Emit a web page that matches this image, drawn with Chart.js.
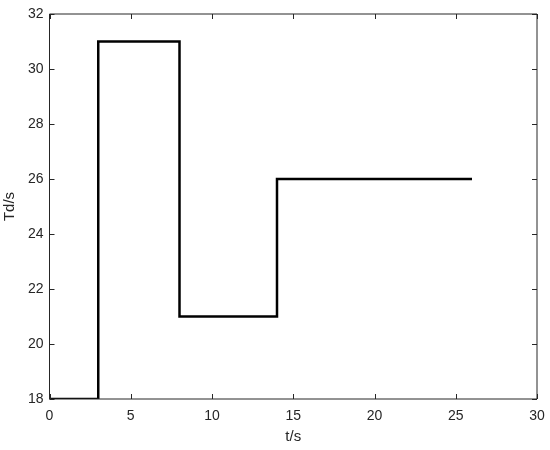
<!DOCTYPE html>
<html>
<head>
<meta charset="utf-8">
<script src="https://cdn.jsdelivr.net/npm/chart.js@4"></script>
<style>
  html, body { margin: 0; padding: 0; background: #fff; }
  #wrap { width: 550px; height: 450px; }
</style>
</head>
<body>
<div id="wrap"><canvas id="chart" width="550" height="450"></canvas></div>
<script>
// step times and values (value holds until the next time)
const times = [0, 3, 8, 14, 26];
const tdValues = [18, 31, 21, 26, 26];
const xTicks = [0, 5, 10, 15, 20, 25, 30];
const yTicks = [18, 20, 22, 24, 26, 28, 30, 32];

const axisColor = '#262626';
const fontFamily = 'Helvetica, Arial, "Liberation Sans", sans-serif';

// box around the plot and inward tick marks, MATLAB style
const boxPlugin = {
    id: 'box',
    afterDraw(chart) {
        const { ctx, chartArea: a, scales } = chart;
        ctx.save();
        ctx.strokeStyle = axisColor;
        ctx.lineWidth = 1;
        ctx.beginPath();
        ctx.rect(a.left, a.top, a.right - a.left, a.bottom - a.top);
        const len = 5;
        xTicks.forEach(v => {
            const x = Math.round(scales.x.getPixelForValue(v)) + 0.5;
            ctx.moveTo(x, a.bottom); ctx.lineTo(x, a.bottom - len);
            ctx.moveTo(x, a.top); ctx.lineTo(x, a.top + len);
        });
        yTicks.forEach(v => {
            const y = Math.round(scales.y.getPixelForValue(v)) + 0.5;
            ctx.moveTo(a.left, y); ctx.lineTo(a.left + len, y);
            ctx.moveTo(a.right, y); ctx.lineTo(a.right - len, y);
        });
        ctx.stroke();
        ctx.restore();
    }
};

const ctx = document.getElementById('chart').getContext('2d');
new Chart(ctx, {
    type: 'scatter',
    data: {
        datasets: [{
            data: times.map((t, i) => ({ x: t, y: tdValues[i] })),
            showLine: true,
            stepped: 'before',
            borderColor: '#000',
            borderWidth: 2.5,
            pointRadius: 0,
            fill: false
        }]
    },
    options: {
        responsive: false,
        animation: false,
        layout: { padding: { top: 14, right: 13, left: 0, bottom: 0 } },
        plugins: { legend: { display: false }, tooltip: { enabled: false } },
        scales: {
            x: {
                type: 'linear',
                min: 0, max: 30,
                afterBuildTicks: s => { s.ticks = xTicks.map(v => ({ value: v })); },
                afterFit: s => { s.height = 51; s.paddingLeft = 0; s.paddingRight = 0; },
                grid: { display: false, drawTicks: false },
                border: { display: false },
                ticks: { color: axisColor, padding: 9, font: { family: fontFamily, size: 14 } },
                title: { display: true, text: 't/s', color: axisColor, padding: { top: 0, bottom: 4 }, font: { family: fontFamily, size: 15 } }
            },
            y: {
                type: 'linear',
                min: 18, max: 32,
                afterBuildTicks: s => { s.ticks = yTicks.map(v => ({ value: v })); },
                afterFit: s => { s.width = 49.5; s.paddingTop = 0; s.paddingBottom = 0; },
                grid: { display: false, drawTicks: false },
                border: { display: false },
                ticks: { color: axisColor, padding: 6, font: { family: fontFamily, size: 14 } },
                title: { display: true, text: 'Td/s', color: axisColor, padding: { top: 1, bottom: 0 }, font: { family: fontFamily, size: 15 } }
            }
        }
    },
    plugins: [boxPlugin]
});
</script>
</body>
</html>
